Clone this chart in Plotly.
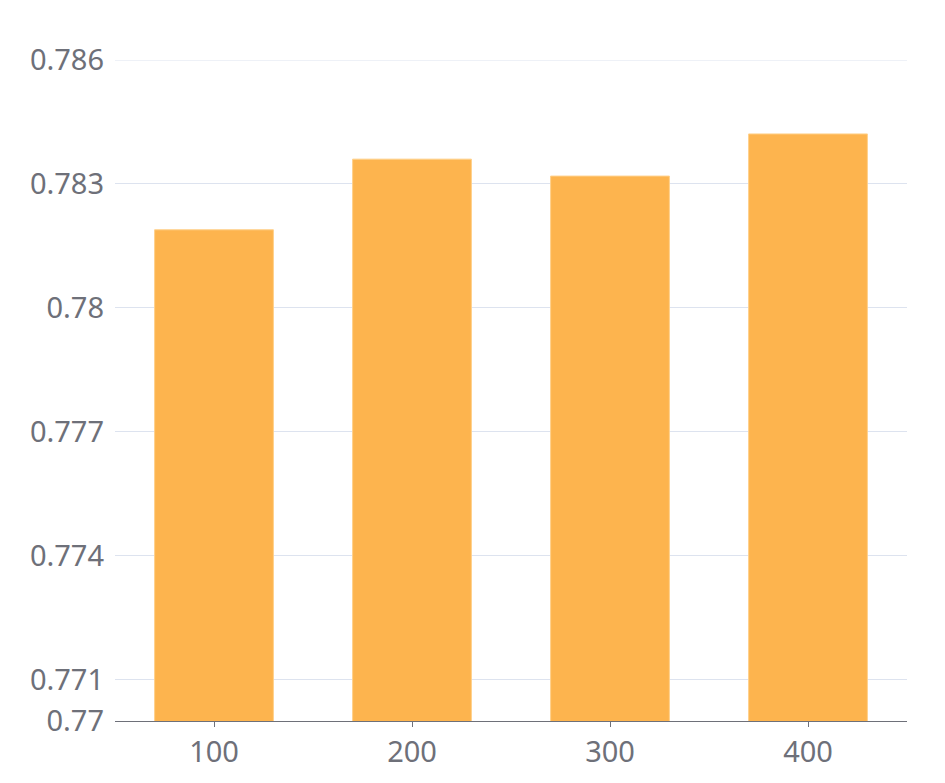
import plotly.graph_objects as go

categories = ["100", "200", "300", "400"]
values = [0.78189, 0.78360, 0.78319, 0.78421]
y_ticks = [0.77, 0.771, 0.774, 0.777, 0.78, 0.783, 0.786]
y_tick_labels = ["0.77", "0.771", "0.774", "0.777", "0.78", "0.783", "0.786"]

GRID = "#DDE3EF"

fig = go.Figure(go.Bar(
    x=categories, y=values,
    marker=dict(color="#FDB44E", line=dict(color="#FFD08A", width=1)),
))

# top grid line (plotly drops grid lines at the very edge of the range)
fig.add_shape(type="line", xref="paper", yref="y", x0=0, x1=1,
              y0=y_ticks[-1], y1=y_ticks[-1],
              line=dict(color=GRID, width=1), layer="below")

fig.update_layout(
    width=945, height=783,
    margin=dict(l=107, r=46, t=52, b=70),
    paper_bgcolor="white", plot_bgcolor="white",
    bargap=0.4,
    showlegend=False,
    font=dict(family="Noto Sans", size=29, color="#6E7079"),
    xaxis=dict(
        type="category",
        showgrid=False,
        showline=True, linecolor="#6E7079", linewidth=1,
        ticks="outside", ticklen=5, tickcolor="#6E7079",
        tickfont=dict(size=29, color="#6E7079"),
    ),
    yaxis=dict(
        range=[0.77, 0.786],
        tickvals=y_ticks, ticktext=y_tick_labels,
        showgrid=True, gridcolor=GRID, gridwidth=1,
        zeroline=False, showline=False,
        ticks="", ticklabelstandoff=10,
        tickfont=dict(size=29, color="#6E7079"),
    ),
)

fig.write_html("out.html")
